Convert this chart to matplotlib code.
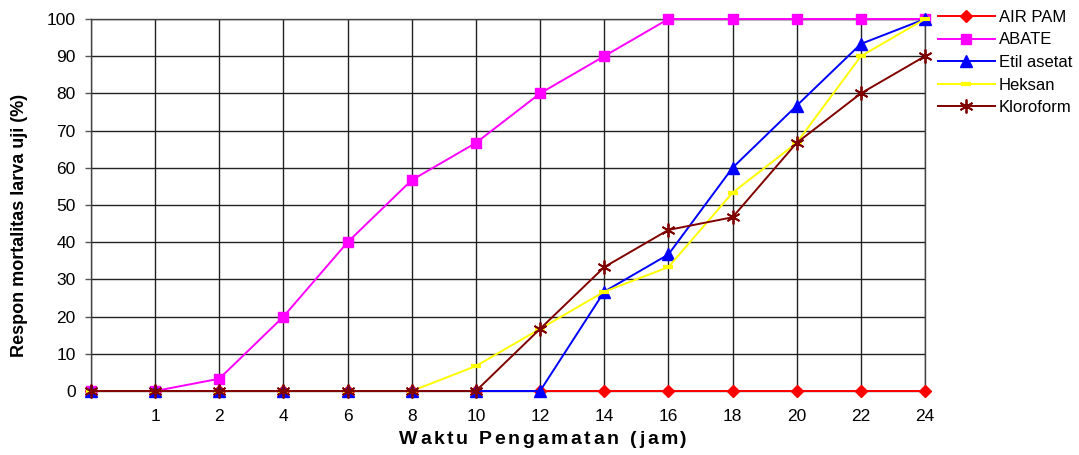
import numpy as np
import matplotlib.pyplot as plt

plt.rcParams['font.family'] = ['Liberation Sans', 'DejaVu Sans']

# observation times (jam) shown as evenly spaced categories
waktu = ['', '1', '2', '4', '6', '8', '10', '12', '14', '16', '18', '20', '22', '24']

air_pam = [0, 0, 0, 0, 0, 0, 0, 0, 0, 0, 0, 0, 0, 0]
abate = [0, 0, 3.3, 20, 40, 56.7, 66.7, 80, 90, 100, 100, 100, 100, 100]
etil_asetat = [0, 0, 0, 0, 0, 0, 0, 0, 26.7, 36.7, 60, 76.7, 93.3, 100]
heksan = [0, 0, 0, 0, 0, 0, 6.7, 16.7, 26.7, 33.3, 53.3, 66.7, 90, 100]
kloroform = [0, 0, 0, 0, 0, 0, 0, 16.7, 33.3, 43.3, 46.7, 66.7, 80, 90]

x = np.arange(len(waktu))

fig = plt.figure(figsize=(10.79, 4.55), dpi=100)
ax = fig.add_axes([91 / 1079, 64 / 455, 834 / 1079, 372 / 455])

ax.plot(x, air_pam, color='#FF0000', lw=1.4, marker='D', ms=6, label='AIR PAM', clip_on=False, zorder=3)
ax.plot(x, abate, color='#FF00FF', lw=1.4, marker='s', ms=7, label='ABATE', clip_on=False, zorder=4)
ax.plot(x, etil_asetat, color='#0000FF', lw=1.4, marker='^', ms=8.5, label='Etil asetat', clip_on=False, zorder=5)
ax.plot(x, heksan, color='#FFFF00', lw=1.4, marker='_', ms=7, mew=3, label='Heksan', clip_on=False, zorder=6)
ax.plot(x, kloroform, color='#800000', lw=1.4, marker=(6, 2, 0), ms=10, mew=1.3,
        label='Kloroform', clip_on=False, zorder=7)

ax.set_xlim(0, 13)
ax.set_ylim(0, 100)
ax.set_xticks(x)
ax.set_xticklabels(waktu)
ax.set_yticks(np.arange(0, 101, 10))
ax.tick_params(axis='x', length=0, pad=13, labelsize=12.5)
ax.tick_params(axis='y', length=4, width=1, color='#555555', pad=7, labelsize=12.5)
ax.grid(True, color='#222222', lw=1)
ax.set_axisbelow(True)
for s in ax.spines.values():
    s.set_color('#444444')
    s.set_linewidth(1)

fig.text(20 / 1079, 1 - 225 / 455, 'Respon mortalitas larva uji (%)', fontsize=13, fontweight='bold',
         rotation=90, ha='center', va='center')


def spaced_text(s, xc, yc, gap, **kw):
    # draw a string letter by letter with extra tracking between characters
    r = fig.canvas.get_renderer()
    widths = []
    for ch in s:
        t = fig.text(0, 0, ch if ch != ' ' else 'a', **kw)
        widths.append(t.get_window_extent(r).width * (0.55 if ch == ' ' else 1))
        t.remove()
    total = sum(widths) + gap * (len(s) - 1)
    px = xc - total / 2
    for ch, w in zip(s, widths):
        if ch != ' ':
            fig.text(px / 1079, yc, ch, ha='left', va='center', **kw)
        px += w + gap


spaced_text('Waktu Pengamatan (jam)', 543, 1 - 440 / 455, 2.6, fontsize=14, fontweight='bold')

ax.legend(loc='upper left', bbox_to_anchor=(938 / 1079, 1 - 10 / 455), bbox_transform=fig.transFigure,
          frameon=False, fontsize=12, handlelength=3.4, handletextpad=0.25, labelspacing=0.45,
          borderpad=0, borderaxespad=0)

fig.savefig('out.png', dpi=100)
